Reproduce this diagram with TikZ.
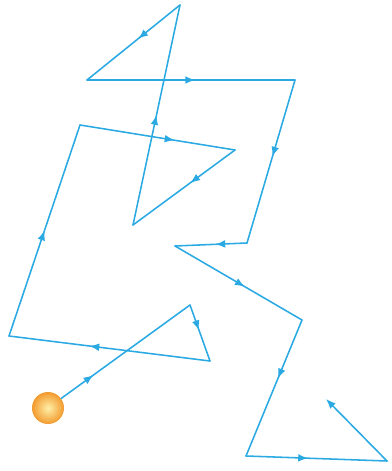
\documentclass[tikz,border=0pt]{standalone}
\usetikzlibrary{arrows.meta,decorations.markings}
\definecolor{PathBlue}{HTML}{2AA9E2}
\definecolor{BallOrange}{HTML}{F29A2E}
\definecolor{BallLight}{HTML}{FFF0A8}
\tikzset{
  walk/.style={PathBlue,line width=1.1pt,line cap=round,line join=round},
  tip/.style={postaction={decorate,decoration={markings,
    mark=at position #1 with {\arrow{Latex[length=7pt,width=5.5pt]}}}}}
}
\begin{document}
\begin{tikzpicture}[x=0.025cm,y=-0.025cm]
  \useasboundingbox (0,0) rectangle (391,471);
  \coordinate (P1) at (190,305); \coordinate (P2) at (210,361);
  \coordinate (P3) at (9,336);   \coordinate (P4) at (80,125);
  \coordinate (P5) at (235,150); \coordinate (P6) at (133,225);
  \coordinate (P7) at (180,5);   \coordinate (P8) at (87,80);
  \coordinate (P9) at (295,80);  \coordinate (P10) at (247,243);
  \coordinate (P11) at (175,246); \coordinate (P12) at (302,320);
  \coordinate (P13) at (246,456); \coordinate (P14) at (387,461);
  \coordinate (E) at (326,399);
  \node[circle,minimum size=0.8cm,inner sep=0pt,inner color=BallLight,outer color=BallOrange] (ball) at (48,408) {};
  \draw[walk,tip=.25] (ball) -- (P1);
  \draw[walk,tip=.45] (P1) -- (P2);
  \draw[walk,tip=.6] (P2) -- (P3);
  \draw[walk,tip=.5] (P3) -- (P4);
  \draw[walk,tip=.61] (P4) -- (P5);
  \draw[walk,tip=.44] (P5) -- (P6);
  \draw[walk,tip=.5] (P6) -- (P7);
  \draw[walk,tip=.45] (P7) -- (P8);
  \draw[walk,tip=.52] (P8) -- (P9);
  \draw[walk,tip=.47] (P9) -- (P10);
  \draw[walk,tip=.44] (P10) -- (P11);
  \draw[walk,tip=.55] (P11) -- (P12);
  \draw[walk,tip=.43] (P12) -- (P13);
  \draw[walk,tip=.44] (P13) -- (P14);
  \draw[walk,-{Latex[length=7pt,width=5.5pt]}] (P14) -- (E);
\end{tikzpicture}
\end{document}
